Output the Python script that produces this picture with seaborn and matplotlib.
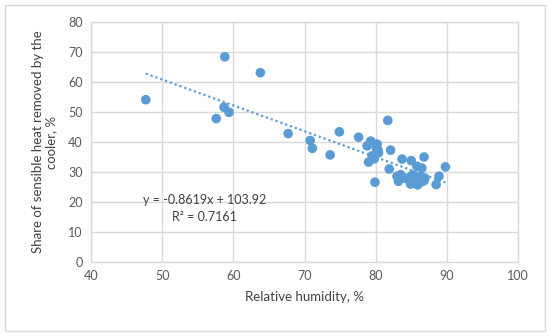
import matplotlib
matplotlib.use("Agg")
import matplotlib.pyplot as plt
import seaborn as sns
import numpy as np
import pandas as pd
from matplotlib.patches import Rectangle

# data
humidity = [47.7, 58.8, 63.8, 58.7, 59.4, 57.6, 67.7, 70.8, 71.1, 73.6,
            74.9, 77.6, 81.7, 78.8, 79.3, 80.2, 80.3, 80.4, 79.5, 79.8,
            79.0, 82.1, 83.7, 85.0, 86.8, 85.8, 86.5, 81.9, 89.8, 79.9,
            88.9, 88.5, 83.0, 83.5, 83.2, 84.1, 84.9, 85.3, 85.9, 86.3,
            86.8, 84.9, 85.6, 86.9, 83.8, 85.2, 86.4, 80.1]
heat_share = [54.1, 68.4, 63.1, 51.6, 49.9, 47.8, 42.8, 40.5, 37.9, 35.7,
              43.4, 41.6, 47.2, 38.7, 40.3, 39.3, 37.4, 36.4, 35.4, 34.4,
              33.3, 37.3, 34.3, 33.8, 35.0, 31.9, 31.3, 31.0, 31.7, 26.6,
              28.6, 25.8, 28.6, 29.1, 26.9, 27.9, 28.4, 26.3, 25.7, 28.7,
              27.1, 26.0, 27.5, 28.0, 28.2, 29.0, 26.7, 38.0]
slope = -0.8619
intercept = 103.92
r2 = 0.7161

df = pd.DataFrame({"rh": humidity, "share": heat_share})

sns.set_style("white")
plt.rcParams['font.family'] = ['Lato', 'DejaVu Sans']

blue = "#5B9BD5"
grid_c = "#D9D9D9"
text_c = "#404040"

fig = plt.figure(figsize=(5.5, 3.36), dpi=100)
ax = fig.add_axes([91/550, 1-262/336, (518-91)/550, (262-22)/336])

sns.scatterplot(data=df, x="rh", y="share", ax=ax, color=blue, s=48,
                edgecolor="none", zorder=3)

# trendline
xs = np.array([df.rh.min(), df.rh.max()])
ax.plot(xs, slope*xs + intercept, color=blue, ls=(0, (1, 1.3)), lw=1.6, zorder=2)

ax.text(55.9, 20.7, f"y = {slope}x + {intercept}", ha="center", va="center",
        fontsize=9, color=text_c)
ax.text(56.0, 15.1, f"R² = {r2}", ha="center", va="center",
        fontsize=9, color=text_c)

ax.set_xlim(40, 100)
ax.set_ylim(0, 80)
ax.set_xticks(range(40, 101, 10))
ax.set_yticks(range(0, 81, 10))
ax.grid(True, color=grid_c, lw=1)
for sp in ax.spines.values():
    sp.set_color(grid_c)
    sp.set_linewidth(1)
ax.tick_params(length=0, labelsize=9, colors="#595959", pad=6)

ax.set_xlabel("Relative humidity, %", fontsize=9.5, color=text_c, labelpad=6)
ax.set_ylabel("Share of sensible heat removed by the\ncooler, %", fontsize=9.5,
              color=text_c, labelpad=8, linespacing=1.1)

# chart border
fig.patches.append(Rectangle((5/550, 5/336), 540/550, 326/336, transform=fig.transFigure,
                             fill=False, edgecolor=grid_c, lw=1))

fig.savefig("out.png", dpi=100)
